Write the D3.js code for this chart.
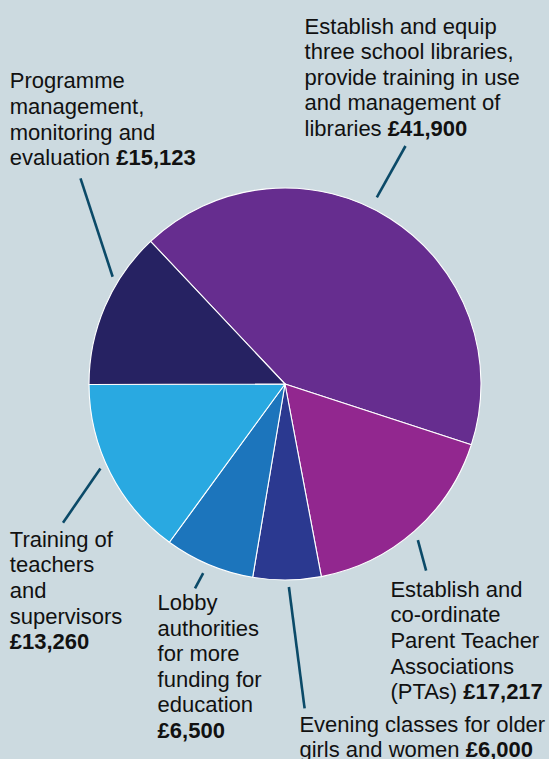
<!DOCTYPE html>
<html>
<head>
<meta charset="utf-8">
<script src="https://cdn.jsdelivr.net/npm/d3@7"></script>
<style>
  html, body { margin: 0; padding: 0; background: #ccdae0; overflow: hidden; }
  svg { display: block; }
</style>
</head>
<body>
<script>
// Slices, clockwise from the top-left boundary
const categories = [
  "Libraries",
  "PTAs",
  "Evening classes",
  "Lobby authorities",
  "Training of teachers",
  "Programme management"
];

// share of the pie (%) as drawn in the picture
const sliceShares = [42.0, 17.0, 5.6, 7.4, 14.9, 13.0];

// amounts printed in the labels
const amounts = ["£41,900", "£17,217", "£6,000", "£6,500", "£13,260", "£15,123"];

// label text; the bold amount goes at the end of the last line
const labelLines = [
  ["Establish and equip", "three school libraries,", "provide training in use", "and management of", "libraries "],
  ["Establish and", "co-ordinate", "Parent Teacher", "Associations", "(PTAs) "],
  ["Evening classes for older", "girls and women "],
  ["Lobby", "authorities", "for more", "funding for", "education", ""],
  ["Training of", "teachers", "and", "supervisors", ""],
  ["Programme", "management,", "monitoring and", "evaluation "]
];

const COLORS = ["#662d8f", "#92278f", "#2b3990", "#1c75bc", "#29a9e1", "#262262"];

const W = 549, H = 759;
const CX = 285, CY = 384, R = 196;
const START = -43.3 * Math.PI / 180;
const LINE_H = 25.6;

// label placement: text origin + leader line (inner end as angle/radius from pie centre)
const LAYOUT = [
  { tx: 304.6, ty: 33.5, a: 26.2, r: 208, x2: 405.5, y2: 146 },
  { tx: 390.4, ty: 596.7, a: 139.6, r: 205, x2: 426.1, y2: 570.7 },
  { tx: 299.4, ty: 731.7, a: 178.9, r: 203, x2: 304.6, y2: 708.3 },
  { tx: 157.6, ty: 610, a: 203.4, r: 206, x2: 195, y2: 588.3 },
  { tx: 9.8, ty: 546.7, a: 245.4, r: 203, x2: 63, y2: 522.7 },
  { tx: 9.8, ty: 88.3, a: 301.9, r: 203, x2: 80.5, y2: 178.3 }
];

const svg = d3.select("body").append("svg")
  .attr("width", W)
  .attr("height", H)
  .style("font-family", "'Liberation Sans', Arial, sans-serif");

svg.append("rect").attr("width", W).attr("height", H).attr("fill", "#ccdae0");

const pie = d3.pie().sort(null).value(d => d)
  .startAngle(START).endAngle(START + 2 * Math.PI);
const arc = d3.arc().innerRadius(0).outerRadius(R);

const g = svg.append("g").attr("transform", `translate(${CX},${CY})`);
g.selectAll("path")
  .data(pie(sliceShares))
  .join("path")
  .attr("d", arc)
  .attr("fill", (d, i) => COLORS[i])
  .attr("stroke", "#ffffff")
  .attr("stroke-width", 1.1)
  .attr("stroke-linejoin", "round");

// leader lines
LAYOUT.forEach(l => {
  const p = d3.pointRadial(l.a * Math.PI / 180, l.r);
  svg.append("line")
    .attr("x1", CX + p[0]).attr("y1", CY + p[1])
    .attr("x2", l.x2).attr("y2", l.y2)
    .attr("stroke", "#0b4a68")
    .attr("stroke-width", 2.6);
});

// labels
labelLines.forEach((lines, i) => {
  const l = LAYOUT[i];
  const t = svg.append("text")
    .attr("x", l.tx).attr("y", l.ty)
    .attr("font-size", 22)
    .attr("fill", "#111111");
  lines.forEach((s, j) => {
    const y = l.ty + j * LINE_H;
    const last = j === lines.length - 1;
    if (s !== "") {
      t.append("tspan")
        .attr("x", l.tx)
        .attr("y", y)
        .attr("xml:space", "preserve")
        .text(s);
    }
    if (last) {
      const b = t.append("tspan").attr("font-weight", "bold").text(amounts[i]);
      if (s === "") b.attr("x", l.tx).attr("y", y);
    }
  });
});
</script>
</body>
</html>
